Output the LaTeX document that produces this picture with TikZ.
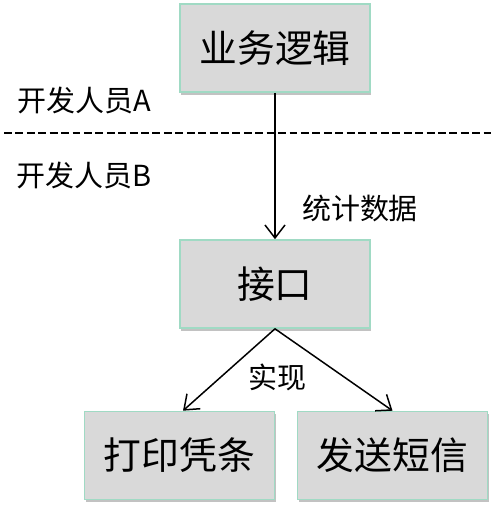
\documentclass[tikz,border=0pt]{standalone}
\usepackage{fontspec}
\setmainfont{Liberation Sans}
\newfontfamily\cjk{Noto Sans CJK SC}
\usetikzlibrary{positioning, arrows.meta, shadows}

\definecolor{boxfill}{RGB}{217,217,217}
\definecolor{boxline}{RGB}{160,218,196}

\tikzset{
    modbox/.style={draw=boxline, line width=0.9pt, fill=boxfill,
        minimum width=3.8cm, minimum height=1.76cm, inner sep=0pt,
        font=\cjk\fontsize{21.5}{25}\selectfont,
        drop shadow={shadow xshift=0.6pt, shadow yshift=-1.6pt, opacity=0.4, fill=black!60}},
    tag/.style={font=\cjk\fontsize{16.5}{19}\selectfont, inner sep=0pt},
    flow/.style={-{Straight Barb[length=2.6mm,width=4mm]}, line width=0.85pt}
}

\begin{document}
\begin{tikzpicture}
    \useasboundingbox (0,0) rectangle (9.98,-10.24);
    % boxes
    \node[modbox] (logic) at (5.5,-0.96) {业务逻辑};
    \node[modbox] (iface) at (5.5,-5.68) {接口};
    \node[modbox] (print) at (3.59,-9.11) {打印凭条};
    \node[modbox] (sms) at (7.85,-9.11) {发送短信};

    % developer split
    \node[tag] (devA) at (1.68,-2.0) {开发人员A};
    \node[tag] (devB) at (1.68,-3.5) {开发人员B};
    \coordinate (cutL) at (0.08,-2.66);
    \coordinate (cutR) at (9.82,-2.66);
    \draw[line width=1.2pt, dash pattern=on 4.5pt off 2pt] (cutL) -- (cutR);

    % connectors
    \draw[flow] (logic.south) -- (iface.north);
    \node[tag] (stat) at (7.2,-4.16) {统计数据};
    \draw[flow] (iface.south) -- ([xshift=0.07cm]print.north);
    \draw[flow] (iface.south) -- (sms.north);
    \node[tag] (impl) at (5.54,-7.54) {实现};
\end{tikzpicture}
\end{document}
